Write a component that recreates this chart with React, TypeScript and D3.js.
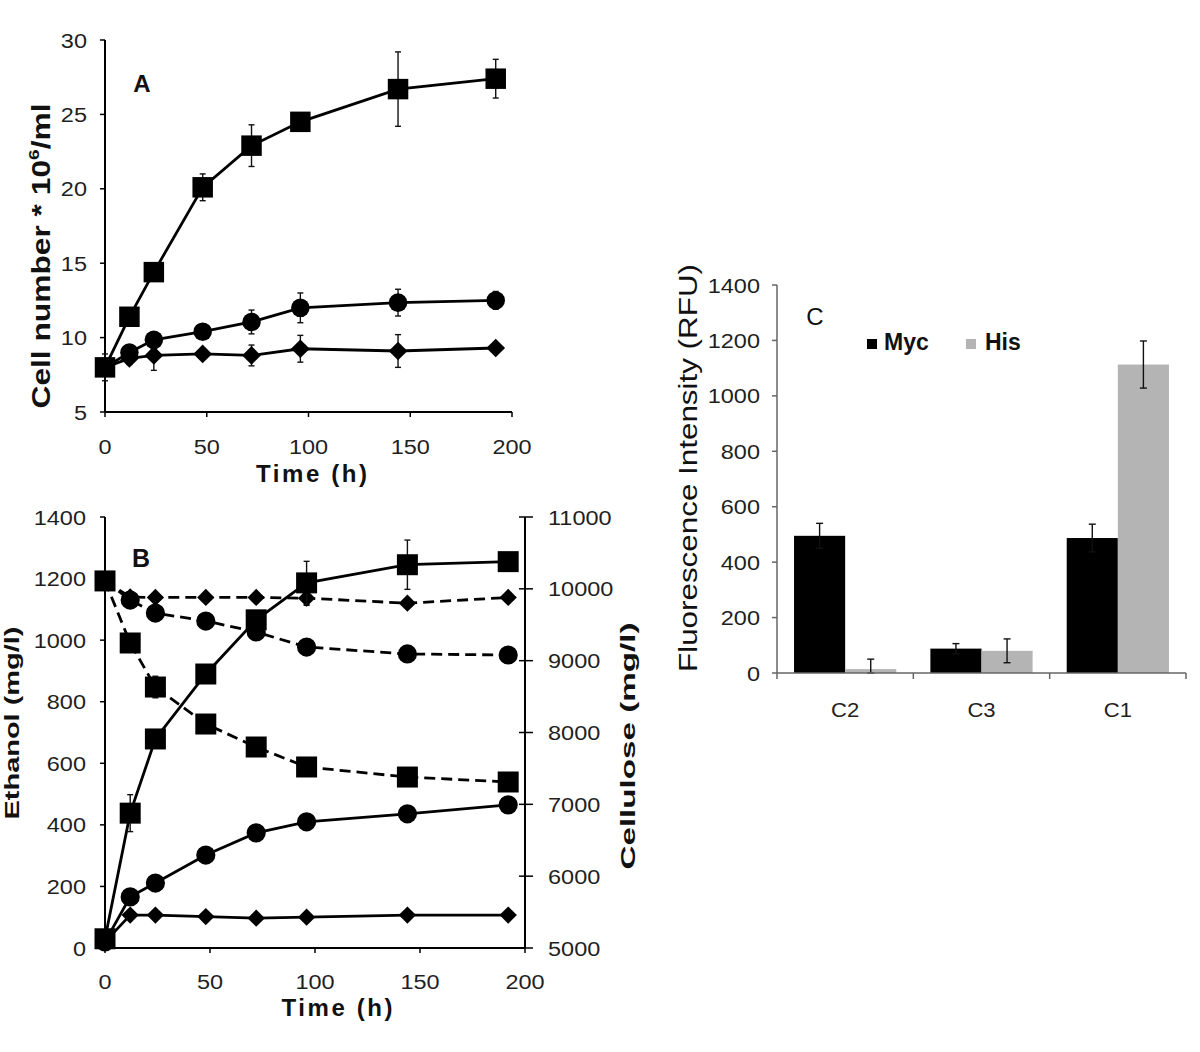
import React from "react";
import * as d3 from "d3";

// ---------- Data ----------
const timesA = [0, 12, 24, 48, 72, 96, 144, 192];
const cellSquare = [8.0, 11.4, 14.4, 20.1, 22.9, 24.5, 26.7, 27.4];
const cellSquareErr = [0.9, 0.4, 0.5, 0.9, 1.4, 0.3, 2.5, 1.3];
const cellCircle = [8.0, 9.0, 9.85, 10.4, 11.05, 12.0, 12.35, 12.5];
const cellCircleErr = [0.5, 0.5, 0.5, 0.4, 0.8, 1.0, 0.9, 0.6];
const cellDiamond = [8.0, 8.6, 8.8, 8.9, 8.8, 9.25, 9.1, 9.3];
const cellDiamondErr = [0.5, 0.4, 1.0, 0.3, 0.7, 0.9, 1.1, 0.2];

const timesB = [0, 12, 24, 48, 72, 96, 144, 192];
const ethSquare = [30, 438, 679, 890, 1066, 1186, 1245, 1255];
const ethSquareErr = [10, 60, 20, 15, 20, 70, 80, 10];
const ethCircle = [20, 166, 211, 302, 374, 410, 436, 465];
const ethCircleErr = [5, 10, 10, 10, 10, 10, 10, 10];
const ethDiamond = [20, 107, 107, 102, 97, 100, 107, 107];
const ethDiamondErr = [5, 5, 5, 5, 5, 5, 5, 5];
const celSquare = [10110, 9246, 8633, 8118, 7798, 7520, 7380, 7311];
const celSquareErr = [20, 40, 150, 30, 30, 30, 60, 30];
const celCircle = [10110, 9844, 9663, 9552, 9399, 9190, 9093, 9079];
const celCircleErr = [20, 40, 40, 30, 30, 30, 30, 30];
const celDiamond = [10110, 9886, 9880, 9880, 9880, 9870, 9800, 9880];
const celDiamondErr = [20, 30, 30, 20, 20, 100, 60, 20];

const ticksA_x = [0, 50, 100, 150, 200];
const ticksA_y = [5, 10, 15, 20, 25, 30];
const ticksB_x = [0, 50, 100, 150, 200];
const ticksB_left = [0, 200, 400, 600, 800, 1000, 1200, 1400];
const ticksB_right = [5000, 6000, 7000, 8000, 9000, 10000, 11000];

const categoriesC = ["C2", "C3", "C1"];
const seriesC = ["Myc", "His"];
const mycValues = [495, 88, 487];
const mycErr = [45, 18, 50];
const hisValues = [14, 80, 1113];
const hisErr = [36, 43, 85];
const ticksC_y = [0, 200, 400, 600, 800, 1000, 1200, 1400];

// ---------- Helpers ----------
const FONT = "'Liberation Sans', Arial, Helvetica, sans-serif";
const TICK_FILL = "#1f1f1f";

function TickText({ x, y, anchor, children, size = 21, sx = 1.12 }) {
  return (
    <text
      transform={`translate(${x},${y}) scale(${sx},1)`}
      textAnchor={anchor}
      fontSize={size}
      fill={TICK_FILL}
      fontFamily={FONT}
    >
      {children}
    </text>
  );
}

const squarePath = (area) => d3.symbol(d3.symbolSquare, area)();
const circlePath = (area) => d3.symbol(d3.symbolCircle, area)();

function Marker({ shape, x, y, big }) {
  if (shape === "square") {
    return <path d={squarePath(big ? 441 : 420)} transform={`translate(${x},${y})`} fill="#000" />;
  }
  if (shape === "circle") {
    return <path d={circlePath(big ? 290 : 270)} transform={`translate(${x},${y})`} fill="#000" />;
  }
  return (
    <path d={squarePath(big ? 150 : 175)} transform={`translate(${x},${y}) rotate(45)`} fill="#000" />
  );
}

function ErrorBar({ x, y1, y2, cap = 6 }) {
  return (
    <g stroke="#111" strokeWidth={1.4}>
      <line x1={x} x2={x} y1={y1} y2={y2} />
      <line x1={x - cap / 2} x2={x + cap / 2} y1={y1} y2={y1} />
      <line x1={x - cap / 2} x2={x + cap / 2} y1={y2} y2={y2} />
    </g>
  );
}

function Series({ times, vals, errs, xs, ys, shape, dashed, big }) {
  const line = d3
    .line()
    .x((d) => xs(d[0]))
    .y((d) => ys(d[1]));
  const pts = times.map((t, i) => [t, vals[i]]);
  return (
    <g>
      <path
        d={line(pts)}
        fill="none"
        stroke="#000"
        strokeWidth={2.8}
        strokeDasharray={dashed ? "11,6" : undefined}
      />
      {times.map((t, i) => (
        <ErrorBar key={"e" + i} x={xs(t)} y1={ys(vals[i] - errs[i])} y2={ys(vals[i] + errs[i])} />
      ))}
      {times.map((t, i) => (
        <Marker key={"m" + i} shape={shape} x={xs(t)} y={ys(vals[i])} big={big} />
      ))}
    </g>
  );
}

// ---------- Panels ----------
function PanelA() {
  const x = d3.scaleLinear().domain([0, 200]).range([105, 512]);
  const y = d3.scaleLinear().domain([5, 30]).range([412, 40]);
  return (
    <g>
      <line x1={x(0)} x2={x(0)} y1={y(30)} y2={y(5)} stroke="#000" strokeWidth={2} />
      <line x1={x(0)} x2={x(200)} y1={y(5)} y2={y(5)} stroke="#000" strokeWidth={2} />
      {ticksA_y.map((t) => (
        <g key={"ay" + t}>
          <line x1={x(0) - 5} x2={x(0)} y1={y(t)} y2={y(t)} stroke="#000" strokeWidth={1.5} />
          <TickText x={87} y={y(t) + 7.5} anchor="end">{t}</TickText>
        </g>
      ))}
      {ticksA_x.map((t) => (
        <g key={"ax" + t}>
          <line x1={x(t)} x2={x(t)} y1={y(5)} y2={y(5) + 5} stroke="#000" strokeWidth={1.5} />
          <TickText x={x(t)} y={454} anchor="middle">{t}</TickText>
        </g>
      ))}
      <Series times={timesA} vals={cellDiamond} errs={cellDiamondErr} xs={x} ys={y} shape="diamond" />
      <Series times={timesA} vals={cellCircle} errs={cellCircleErr} xs={x} ys={y} shape="circle" />
      <Series times={timesA} vals={cellSquare} errs={cellSquareErr} xs={x} ys={y} shape="square" />
      <text x={142} y={92} textAnchor="middle" fontSize={24} fontWeight="bold" fontFamily={FONT} fill="#111">
        A
      </text>
      <text
        x={(105 + 512) / 2 + 3}
        y={482}
        textAnchor="middle"
        fontSize={24}
        fontWeight="bold"
        fontFamily={FONT}
        fill="#111"
        textLength={111}
        lengthAdjust="spacing"
      >
        Time (h)
      </text>
      <text
        transform="translate(50,256) rotate(-90)"
        textAnchor="middle"
        fontSize={25}
        fontWeight="bold"
        fontFamily={FONT}
        fill="#111"
        textLength={305}
        lengthAdjust="spacingAndGlyphs"
      >
        Cell number * 10
        <tspan fontSize={15} dy={-11}>6</tspan>
        <tspan dy={11}>/ml</tspan>
      </text>
    </g>
  );
}

function PanelB() {
  const x = d3.scaleLinear().domain([0, 200]).range([105, 525]);
  const yL = d3.scaleLinear().domain([0, 1400]).range([948, 517]);
  const yR = d3.scaleLinear().domain([5000, 11000]).range([948, 517]);
  return (
    <g>
      <line x1={x(0)} x2={x(0)} y1={517} y2={948} stroke="#000" strokeWidth={2} />
      <line x1={x(0)} x2={x(200)} y1={948} y2={948} stroke="#000" strokeWidth={2} />
      <line x1={x(200)} x2={x(200)} y1={517} y2={948} stroke="#000" strokeWidth={2} />
      {ticksB_left.map((t) => (
        <g key={"bl" + t}>
          <line x1={x(0) - 5} x2={x(0)} y1={yL(t)} y2={yL(t)} stroke="#000" strokeWidth={1.5} />
          <TickText x={86} y={yL(t) + 7.5} anchor="end">{t}</TickText>
        </g>
      ))}
      {ticksB_right.map((t) => (
        <g key={"br" + t}>
          <line x1={x(200) - 6} x2={x(200) + 8} y1={yR(t)} y2={yR(t)} stroke="#000" strokeWidth={1.5} />
          <TickText x={548} y={yR(t) + 7.5} anchor="start">{t}</TickText>
        </g>
      ))}
      {ticksB_x.map((t) => (
        <g key={"bx" + t}>
          <line x1={x(t)} x2={x(t)} y1={948} y2={953} stroke="#000" strokeWidth={1.5} />
          <TickText x={x(t)} y={989} anchor="middle">{t}</TickText>
        </g>
      ))}
      <Series times={timesB} vals={celDiamond} errs={celDiamondErr} xs={x} ys={yR} shape="diamond" dashed big />
      <Series times={timesB} vals={celCircle} errs={celCircleErr} xs={x} ys={yR} shape="circle" dashed big />
      <Series times={timesB} vals={celSquare} errs={celSquareErr} xs={x} ys={yR} shape="square" dashed big />
      <Series times={timesB} vals={ethDiamond} errs={ethDiamondErr} xs={x} ys={yL} shape="diamond" big />
      <Series times={timesB} vals={ethCircle} errs={ethCircleErr} xs={x} ys={yL} shape="circle" big />
      <Series times={timesB} vals={ethSquare} errs={ethSquareErr} xs={x} ys={yL} shape="square" big />
      <text x={141} y={567} textAnchor="middle" fontSize={25} fontWeight="bold" fontFamily={FONT} fill="#111">
        B
      </text>
      <text
        x={337}
        y={1016}
        textAnchor="middle"
        fontSize={24}
        fontWeight="bold"
        fontFamily={FONT}
        fill="#111"
        textLength={111}
        lengthAdjust="spacing"
      >
        Time (h)
      </text>
      <text
        transform="translate(19,723) rotate(-90)"
        textAnchor="middle"
        fontSize={21}
        fontWeight="bold"
        fontFamily={FONT}
        fill="#111"
        textLength={193}
        lengthAdjust="spacingAndGlyphs"
      >
        Ethanol (mg/l)
      </text>
      <text
        transform="translate(635,746) rotate(-90)"
        textAnchor="middle"
        fontSize={21}
        fontWeight="bold"
        fontFamily={FONT}
        fill="#111"
        textLength={247}
        lengthAdjust="spacingAndGlyphs"
      >
        Cellulose (mg/l)
      </text>
    </g>
  );
}

function PanelC() {
  const x0 = d3.scaleBand().domain(categoriesC).range([777, 1186]).paddingInner(0.25).paddingOuter(0.125);
  const x1 = d3.scaleBand().domain(seriesC).range([0, x0.bandwidth()]);
  const y = d3.scaleLinear().domain([0, 1400]).range([673, 285]);
  const step = x0.step();
  const bounds = [777, 777 + step, 777 + 2 * step, 1186];
  const colors = { Myc: "#000000", His: "#b4b4b4" };
  const vals = { Myc: mycValues, His: hisValues };
  const errs = { Myc: mycErr, His: hisErr };
  return (
    <g>
      {categoriesC.map((c, ci) =>
        seriesC.map((s) => {
          const bx = x0(c) + x1(s);
          const v = vals[s][ci];
          return (
            <rect key={c + s} x={bx} y={y(v)} width={x1.bandwidth()} height={y(0) - y(v)} fill={colors[s]} />
          );
        })
      )}
      {categoriesC.map((c, ci) =>
        seriesC.map((s) => {
          const cx = x0(c) + x1(s) + x1.bandwidth() / 2;
          const v = vals[s][ci];
          const e = errs[s][ci];
          return <ErrorBar key={"e" + c + s} x={cx} y1={y(Math.max(0, v - e))} y2={y(v + e)} cap={7} />;
        })
      )}
      <line x1={777} x2={777} y1={285} y2={673} stroke="#666" strokeWidth={1.5} />
      <line x1={777} x2={1186} y1={673} y2={673} stroke="#666" strokeWidth={1.5} />
      {ticksC_y.map((t) => (
        <g key={"cy" + t}>
          <line x1={772} x2={777} y1={y(t)} y2={y(t)} stroke="#666" strokeWidth={1.5} />
          <TickText x={760} y={y(t) + 7.5} anchor="end">{t}</TickText>
        </g>
      ))}
      {bounds.map((b, i) => (
        <line key={"cb" + i} x1={b} x2={b} y1={673} y2={679} stroke="#666" strokeWidth={1.5} />
      ))}
      {categoriesC.map((c) => (
        <TickText key={"cl" + c} x={x0(c) + x0.bandwidth() / 2} y={717} anchor="middle" sx={1.05}>
          {c}
        </TickText>
      ))}
      <rect x={867} y={339} width={10} height={10} fill={colors.Myc} />
      <text x={884} y={350} fontSize={23} fontWeight="bold" fontFamily={FONT} fill="#111">
        {seriesC[0]}
      </text>
      <rect x={966} y={339} width={10} height={10} fill={colors.His} />
      <text x={985} y={350} fontSize={23} fontWeight="bold" fontFamily={FONT} fill="#111">
        {seriesC[1]}
      </text>
      <text x={815} y={325} textAnchor="middle" fontSize={24} fontFamily={FONT} fill="#111">
        C
      </text>
      <text
        transform="translate(697,468) rotate(-90)"
        textAnchor="middle"
        fontSize={25}
        fontFamily={FONT}
        fill="#111"
        textLength={408}
        lengthAdjust="spacingAndGlyphs"
      >
        Fluorescence Intensity (RFU)
      </text>
    </g>
  );
}

export default function App() {
  return (
    <svg
      width={1200}
      height={1052}
      viewBox="0 0 1200 1052"
      style={{ position: "absolute", left: 0, top: 0, background: "#fff" }}
    >
      <rect x={0} y={0} width={1200} height={1052} fill="#fff" />
      <PanelA />
      <PanelB />
      <PanelC />
    </svg>
  );
}
